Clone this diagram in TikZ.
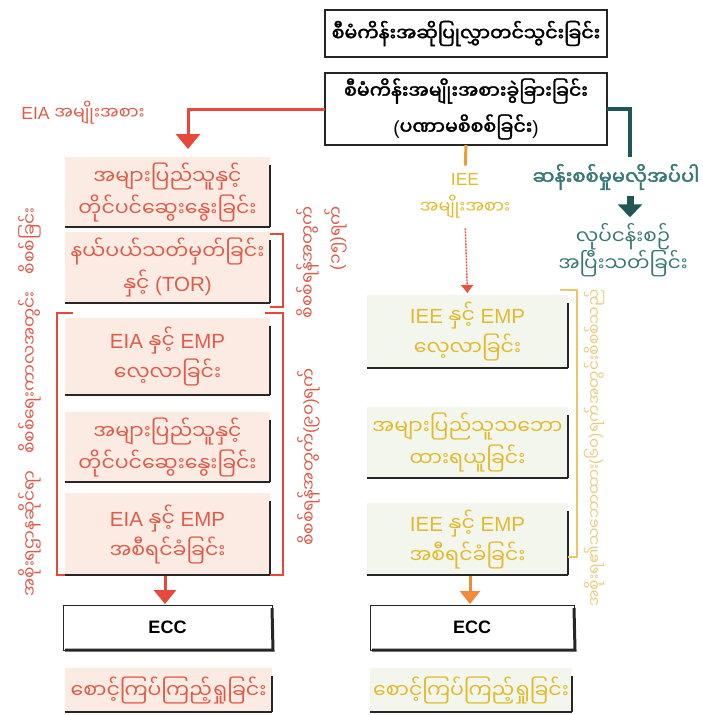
\documentclass[tikz,border=0pt]{standalone}
\usepackage{fontspec}
\setmainfont{Liberation Sans}
\newfontfamily\my[Script=Myanmar]{Noto Sans Myanmar UI}
\newfontfamily\mybf[Script=Myanmar,FakeBold=2]{Noto Sans Myanmar UI}
\usetikzlibrary{arrows.meta}
\newcommand\mm[1]{{\my #1}}
\newcommand\mb[1]{{\mybf #1}}
\definecolor{rd}{HTML}{E8483A}
\definecolor{rtxt}{HTML}{DE5C4C}
\definecolor{peach}{HTML}{FCEBE2}
\definecolor{grn}{HTML}{F2F6EC}
\definecolor{yel}{HTML}{E3BA2E}
\definecolor{yelb}{HTML}{F0C468}
\definecolor{yelt}{HTML}{E9CC80}
\definecolor{tealc}{HTML}{1E5755}
\definecolor{tealt}{HTML}{3A7876}
\definecolor{orng}{HTML}{F28A3C}
\definecolor{dk}{HTML}{262626}
\begin{document}
\begin{tikzpicture}[x=1pt,y=-1pt,
  every node/.style={inner sep=0pt,outer sep=0pt},
  topbox/.style={draw=dk,line width=1.2pt,fill=white,minimum width=282pt,align=center,font=\fontsize{19}{36}\selectfont},
  pbox/.style={fill=peach,minimum width=205pt,align=center,text=rtxt,font=\fontsize{20.5}{32}\selectfont},
  gbox/.style={fill=grn,minimum width=201pt,align=center,text=yel,font=\fontsize{20.5}{32}\selectfont},
  ebox/.style={draw=dk,line width=1pt,fill=white,minimum height=45pt,font=\bfseries\fontsize{18}{20}\selectfont},
  shd/.style={dk,line width=2.5pt},
  brk/.style={line width=1.1pt},
  vtxt/.style={rotate=90,font=\fontsize{17}{24}\selectfont},
  lbl/.style={align=center,font=\fontsize{17.5}{28}\selectfont}
]
\useasboundingbox[fill=white] (0,0) rectangle (702,715);

% top boxes
\node[topbox,minimum height=47pt] (T1) at (466,33.5) {\mb{စီမံကိန်းအဆိုပြုလွှာတင်သွင်းခြင်း}};
\node[topbox,minimum height=72pt] (T2) at (466,109) {\mb{စီမံကိန်းအမျိုးအစားခွဲခြားခြင်း}\\(\mb{ပဏာမစိစစ်ခြင်း})};

% left column (EIA)
\node[pbox,minimum height=70pt] (L1) at (167.5,192) {\mm{အများပြည်သူနှင့်}\\\mm{တိုင်ပင်ဆွေးနွေးခြင်း}};
\node[pbox,minimum height=71pt] (L2) at (167.5,267.5) {\mm{နယ်ပယ်သတ်မှတ်ခြင်း}\\\mm{နှင့်} (TOR)};
\node[pbox,minimum height=77pt] (L3) at (167.5,356.5) {EIA \mm{နှင့်} EMP\\\mm{လေ့လာခြင်း}};
\node[pbox,minimum height=70pt] (L4) at (167.5,447) {\mm{အများပြည်သူနှင့်}\\\mm{တိုင်ပင်ဆွေးနွေးခြင်း}};
\node[pbox,minimum height=82pt] (L5) at (167.5,534) {EIA \mm{နှင့်} EMP\\\mm{အစီရင်ခံခြင်း}};
\node[ebox,minimum width=209pt] (EL) at (167.5,627.5) {ECC};
\node[pbox,minimum height=44pt,minimum width=207pt] (ML) at (168.5,690) {\mm{စောင့်ကြပ်ကြည့်ရှုခြင်း}};

% right column (IEE)
\node[gbox,minimum height=73pt] (R1) at (467.5,331.5) {IEE \mm{နှင့်} EMP\\\mm{လေ့လာခြင်း}};
\node[gbox,minimum height=71pt] (R2) at (467.5,442.5) {\mm{အများပြည်သူသဘော}\\\mm{ထားရယူခြင်း}};
\node[gbox,minimum height=72pt] (R3) at (467.5,539) {IEE \mm{နှင့်} EMP\\\mm{အစီရင်ခံခြင်း}};
\node[ebox,minimum width=204pt] (ER) at (472,627.5) {ECC};
\node[gbox,minimum height=44pt,minimum width=202pt] (MR) at (471,690) {\mm{စောင့်ကြပ်ကြည့်ရှုခြင်း}};

% shadow lines of the boxes
\foreach \n in {L1,L2,L3,L4,L5,ML,R1,R2,R3,MR}{
  \draw[shd] (\n.south west) -- (\n.south east);
  \draw[dk,line width=2pt] ([yshift=-8pt]\n.north east) -- (\n.south east);
}
\foreach \n in {EL,ER}{
  \draw[dk,line width=3pt] ([xshift=2pt]\n.south west) -- ([xshift=1pt]\n.south east) -- ([yshift=-3pt]\n.north east);
}

% labels
\node[lbl,text=rtxt] (EIAl) at (83,113) {EIA \mm{အမျိုးအစား}};
\node[lbl,text=yel] (IEEl) at (465,196) {IEE\\\mm{အမျိုးအစား}};
\node[font=\fontsize{19.5}{24}\selectfont,text=tealt] (NO) at (616,177) {\mb{ဆန်းစစ်မှုမလိုအပ်ပါ}};
\node[align=center,font=\fontsize{20}{27}\selectfont,text=tealt] (FIN) at (623,250) {\mm{လုပ်ငန်းစဉ်}\\\mm{အပြီးသတ်ခြင်း}};
\coordinate (tealend) at (630,157);

% connectors
\draw[rd,line width=3pt,-{Triangle[width=24pt,length=15pt]},shorten >=8pt]
  (T2.west) -| ([xshift=20.5pt]L1.north);
\draw[tealc,line width=4pt] (T2.east) -| (tealend);
\draw[tealc,line width=7pt,-{Triangle[width=24pt,length=13pt]},shorten <=6pt,shorten >=6pt]
  ([xshift=7pt]FIN.north |- NO.south) -- ([xshift=7pt]FIN.north);
\draw[orng!60!yel,line width=3pt,shorten >=8pt] (T2.south) -- (IEEl.north);
\draw[rd!85!orng,line width=1.4pt,dash pattern=on 2pt off 1pt,-{Triangle[width=12pt,length=8pt]},shorten <=10pt,shorten >=2pt]
  (IEEl.south) -- (R1.north);
\draw[rd,line width=3pt,-{Triangle[width=22pt,length=14pt]},shorten <=1pt,shorten >=1pt]
  ([xshift=-2.5pt]L5.south) -- ([xshift=-2.5pt]EL.north);
\draw[orng,line width=3pt,-{Triangle[width=20pt,length=13pt]},shorten <=1pt,shorten >=1pt]
  ([xshift=2.5pt]R3.south) -- ([xshift=-2pt]ER.north);

% brackets
\draw[rd,brk] ([yshift=-2pt]L2.north east) -- ++(13,0) -- ([xshift=13pt,yshift=-4pt]L2.south east) -- ++(-13,0);
\draw[rd,brk] (73,313) -- (57,313) -- (57,575) -- (65,575);
\draw[rd,brk] (265,313) -- (283,313) -- (283,575) -- (270,575);
\draw[yelb,brk] (560,290) -- (577,290) -- (577,557) -- (568,557);

% vertical texts
\node[vtxt,text=rtxt] (VL) at (30,402) {\mm{အစိုးရဌာနဆိုင်ရာ}\quad\mm{စိစစ်ရေးကာလအတွင်း}\quad\mm{စိစစ်ခြင်း}};
\node[vtxt,text=rtxt,align=right,font=\fontsize{17}{28}\selectfont] (VM1) at (322,262) {\mm{စိစစ်ရန်အတွက်}\\(\mm{၁၅})\mm{ရက်}};
\node[vtxt,text=rtxt] (VM2) at (309,457) {\mm{စိစစ်ရန်အတွက်}(\mm{၉၀})\mm{ရက်}};
\node[vtxt,text=yelt,font=\fontsize{15.5}{20}\selectfont] (VR) at (594,448) {\mm{အစိုးရ၏သဘောထား}(\mm{၆၀})\mm{ရက်အတွင်းစိစစ်သည်}};
\end{tikzpicture}
\end{document}
